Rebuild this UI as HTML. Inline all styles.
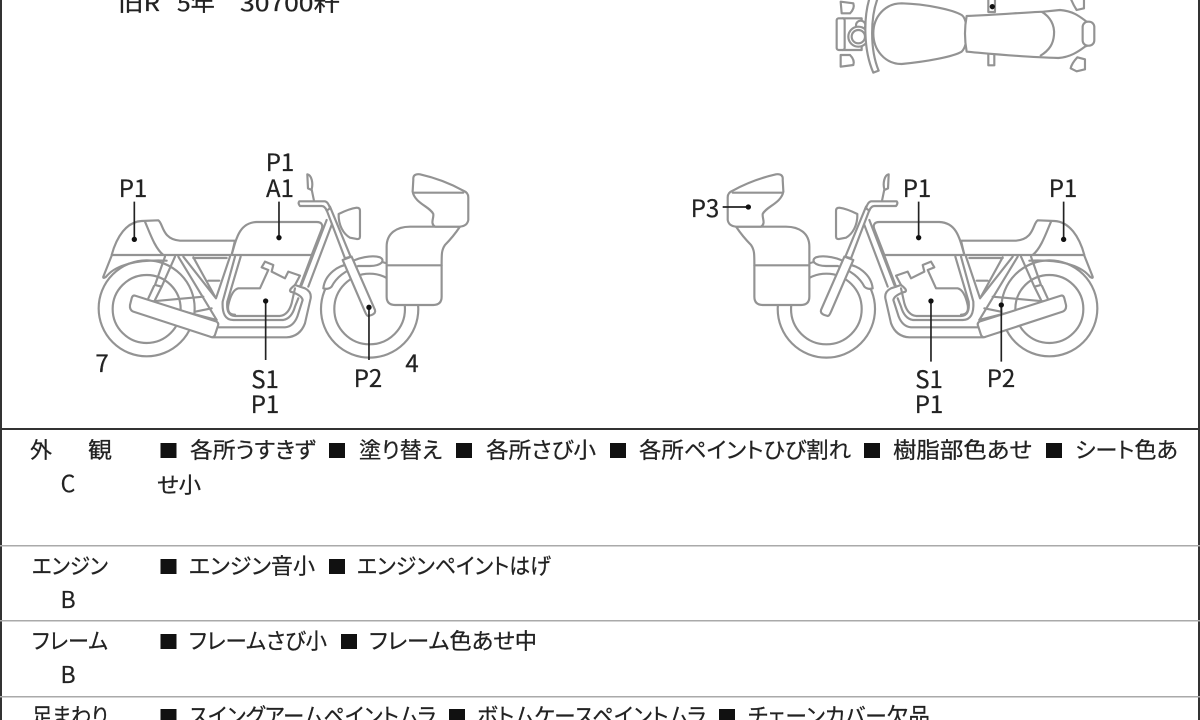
<!DOCTYPE html>
<html lang="ja"><head><meta charset="utf-8"><title>Diagram</title>
<style>
html,body{margin:0;padding:0;background:#fff;width:1200px;height:720px;overflow:hidden}
svg{display:block;filter:blur(.3px)}
text{font-family:"Liberation Sans","Noto Sans CJK JP",sans-serif}
.lb{font-family:"Noto Sans CJK JP",sans-serif;font-size:24px;fill:#222;stroke:#222;stroke-width:.25px;text-anchor:middle}
.t{font-family:"Noto Sans CJK JP",sans-serif;font-size:22px;fill:#222;stroke:#222;stroke-width:.25px;font-feature-settings:"palt";font-weight:400}
.b{font-family:"Noto Sans CJK JP",sans-serif;font-size:23px;fill:#222;stroke:#222;stroke-width:.2px;text-anchor:middle}
.l{stroke:#222;stroke-width:5;fill:none}
</style></head><body>
<svg width="1200" height="720" viewBox="0 0 1200 720" xmlns="http://www.w3.org/2000/svg">
<defs>
<g id="bike" fill="none" stroke="#939393" stroke-width="6.5" stroke-linejoin="round" stroke-linecap="round">
 <circle cx="200" cy="505" r="144"/><circle cx="200" cy="507" r="102"/>
 <circle cx="869" cy="507" r="146"/><circle cx="869" cy="507" r="106"/>
 <!-- tail -->
 <path fill="#fff" d="M95,345C110,290 140,245 185,243L235,241C250,250 245,298 300,302H465L455,345Z"/>
 <path d="M195,245C210,280 225,325 250,345"/>
 <path d="M95,347L70,410C68,416 76,414 82,406C110,375 170,358 260,362"/>
 <!-- frame -->
 <path d="M255,350L225,435L245,440L285,350M222,438L205,475M245,440L225,480"/>
 <path d="M295,350L410,540M310,350L408,475L450,350M340,352L405,470M340,354H440M385,422H418"/>
 <path d="M205,485L370,470M345,515L395,505M215,490L410,540"/>
 <!-- tank -->
 <path fill="#fff" d="M455,345C470,290 480,248 530,246H710C725,246 730,255 725,268L695,345Z"/>
 <!-- downtube / engine -->
 <path d="M465,350L428,485Q425,540 460,540H610Q635,535 645,500L655,475M482,350L442,485Q438,528 465,528H600Q625,525 635,490L645,445"/>
 <path d="M555,365L545,382L565,390L540,445H475Q455,450 445,495Q440,524 465,524M555,365L580,375L575,395L615,415L625,395L660,407L645,435"/>
 <path d="M740,240L665,435M755,255L685,440M695,347L660,440"/>
 <!-- exhaust -->
 <path d="M645,435L675,445Q695,455 692,475L675,550Q660,590 620,592H400M632,455Q665,465 668,480L652,530Q640,560 615,562H410"/>
 <path d="M645,435Q625,450 632,455"/>
 <path fill="#fff" d="M165,467L410,545Q418,550 413,560L405,585Q400,595 390,590L160,515Q148,510 150,495L155,475Q158,465 165,467Z"/>
 <!-- fender -->
 <path fill="#fff" d="M730,445C735,400 780,375 800,375C830,350 880,345 900,352Q912,358 905,368Q895,378 870,378H835C800,390 770,410 755,440Q745,450 730,445Z"/>
 <!-- headlight -->
 <path fill="#fff" d="M776,222C790,215 815,205 830,203Q840,203 840,212V290Q840,298 830,297L810,293C790,282 775,255 776,222Z"/>
 <!-- fork -->
 <path fill="#fff" d="M738,205L750,200L812,350L795,355Z"/>
 <path fill="#fff" d="M788,360L815,350L885,510Q888,520 875,525L865,528Q860,528 855,515Z"/>
 <!-- bars -->
 <path fill="#fff" d="M658,184H735Q745,186 750,205L740,212Q735,198 725,198H660Q653,190 658,184Z"/>
 <path d="M682,103C695,105 700,130 695,148L702,182M682,103L684,145L695,150"/>
 <!-- cases -->
 <path fill="#fff" d="M920,320C920,280 950,260 990,260H1140Q1120,290 1095,315C1085,330 1085,340 1085,375V470Q1085,495 1060,495H945Q920,495 920,470Z"/>
 <path d="M920,376H1085"/>
 <path fill="#fff" d="M1000,120Q998,100 1020,103C1060,112 1110,130 1150,152Q1165,158 1165,172V240Q1162,258 1140,260H1065C1050,250 1062,235 1060,222C1050,200 1005,190 998,155Z"/>
 <path d="M1000,158H1150"/>
</g>
</defs>
<rect width="1200" height="720" fill="#fff"/>

<text class="t" x="118" y="11" textLength="42" lengthAdjust="spacingAndGlyphs">旧R</text>
<text class="t" x="177" y="11" textLength="38" lengthAdjust="spacingAndGlyphs">5年</text>
<text class="t" x="240" y="11" textLength="100" lengthAdjust="spacingAndGlyphs">30700粁</text>

<!-- top view -->
<g transform="translate(820,0) scale(.3333)" fill="#fff" stroke="#939393" stroke-width="6.5" stroke-linejoin="round">
 <rect x="505" y="-12" width="20" height="48"/><rect x="505" y="160" width="18" height="36"/>
 <circle cx="517" cy="20" r="8" fill="#111" stroke="none"/>
 <path d="M62,5L100,10Q105,25 90,40H65Z"/><path d="M62,165H90Q105,180 100,195L62,200Z"/>
 <path d="M752,-5Q760,15 770,30L792,25V-5ZM752,205Q755,190 772,172L795,178V208L770,214Z"/>
 <path d="M68,55H125V150H68Z"/>
 <rect x="50" y="55" width="24" height="95" rx="6"/>
 <circle cx="122" cy="76" r="14"/><circle cx="115" cy="110" r="30"/><circle cx="115" cy="110" r="20"/>
 <path d="M150,-10C130,50 130,150 160,218L176,212C150,150 150,50 175,-10Z"/>
 <path d="M160,100C160,50 195,10 245,10C320,12 400,30 425,45Q440,55 440,100Q440,140 425,155C400,170 320,185 245,192C195,192 160,150 160,100Z"/>
 <path d="M440,48C530,45 600,38 670,35L720,30C760,33 780,50 800,65L818,70Q826,100 818,130L795,140C775,155 750,172 715,174C620,172 520,162 440,155Q430,100 440,48Z"/>
 <path fill="none" d="M665,35C690,50 705,75 702,105C700,130 690,150 660,168"/>
 <rect x="788" y="65" width="35" height="72" rx="16"/>
</g>

<!-- left bike -->
<g transform="translate(80,140) scale(.3333)"><use href="#bike"/>
 <path class="l" d="M163,185V298M597,185V293M557,483V660M867,502V660"/>
 <g fill="#111"><circle cx="163" cy="298" r="8"/><circle cx="597" cy="293" r="8"/><circle cx="557" cy="483" r="8"/><circle cx="867" cy="502" r="8"/></g>
</g>
<!-- right bike -->
<g transform="translate(1196,0) scale(-1,1) translate(80,140) scale(.3333)"><use href="#bike"/></g>
<g transform="translate(680,140) scale(.3333)">
 <path class="l" d="M128,201H205M716,185V293M1151,185V298M753,483V665M964,495V665"/>
 <g fill="#111"><circle cx="205" cy="201" r="8"/><circle cx="716" cy="293" r="8"/><circle cx="1151" cy="298" r="8"/><circle cx="753" cy="483" r="8"/><circle cx="964" cy="495" r="8"/></g>
</g>

<text class="lb" x="133" y="197">P1</text>
<text class="lb" x="280" y="171">P1</text><text class="lb" x="280" y="197">A1</text>
<text class="lb" x="265" y="388">S1</text><text class="lb" x="265" y="413">P1</text>
<text class="lb" x="368" y="387">P2</text>
<text class="lb" x="102" y="372">7</text><text class="lb" x="412" y="372">4</text>
<text class="lb" x="705" y="217">P3</text>
<text class="lb" x="917" y="197">P1</text><text class="lb" x="1063" y="197">P1</text>
<text class="lb" x="929" y="388">S1</text><text class="lb" x="929" y="413">P1</text>
<text class="lb" x="1001" y="387">P2</text>

<!-- borders -->
<rect x="0" y="0" width="2" height="720" fill="#333"/>
<rect x="1198" y="0" width="2" height="720" fill="#333"/>
<rect x="0" y="428" width="1200" height="2" fill="#333"/>
<rect x="0" y="545" width="1200" height="1.5" fill="#aaa"/>
<rect x="0" y="620" width="1200" height="1.5" fill="#aaa"/>
<rect x="0" y="696" width="1200" height="1.5" fill="#aaa"/>

<!-- squares -->
<g fill="#111">
 <rect x="160.5" y="443" width="16" height="15"/><rect x="329" y="443" width="16" height="15"/><rect x="456" y="443" width="16" height="15"/><rect x="610" y="443" width="16" height="15"/><rect x="864" y="443" width="16" height="15"/><rect x="1046" y="443" width="16" height="15"/>
 <rect x="160.5" y="559" width="16" height="15"/><rect x="329" y="559" width="16" height="15"/>
 <rect x="160.5" y="634" width="16" height="15"/><rect x="341" y="634" width="16" height="15"/>
 <rect x="160.5" y="709" width="16" height="15"/><rect x="449" y="709" width="16" height="15"/><rect x="719" y="709" width="16" height="15"/>
</g>

<!-- rows -->
<text class="t" x="30" y="458" textLength="22" lengthAdjust="spacingAndGlyphs">外</text>
<text class="t" x="88" y="458" textLength="24" lengthAdjust="spacingAndGlyphs">観</text>
<text class="b" x="68" y="492">C</text>
<text class="t" x="190" y="458" textLength="126" lengthAdjust="spacingAndGlyphs">各所うすきず</text>
<text class="t" x="359" y="458" textLength="83" lengthAdjust="spacingAndGlyphs">塗り替え</text>
<text class="t" x="486" y="458" textLength="110" lengthAdjust="spacingAndGlyphs">各所さび小</text>
<text class="t" x="639" y="458" textLength="212" lengthAdjust="spacingAndGlyphs">各所ペイントひび割れ</text>
<text class="t" x="893" y="458" textLength="139" lengthAdjust="spacingAndGlyphs">樹脂部色あせ</text>
<text class="t" x="1075" y="458" textLength="103" lengthAdjust="spacingAndGlyphs">シート色あ</text>
<text class="t" x="157" y="493" textLength="44" lengthAdjust="spacingAndGlyphs">せ小</text>

<text class="t" x="32" y="574" textLength="76" lengthAdjust="spacingAndGlyphs">エンジン</text>
<text class="b" x="68" y="608">B</text>
<text class="t" x="189" y="574" textLength="126" lengthAdjust="spacingAndGlyphs">エンジン音小</text>
<text class="t" x="357" y="574" textLength="194" lengthAdjust="spacingAndGlyphs">エンジンペイントはげ</text>

<text class="t" x="32" y="649" textLength="76" lengthAdjust="spacingAndGlyphs">フレーム</text>
<text class="b" x="68" y="683">B</text>
<text class="t" x="189" y="649" textLength="138" lengthAdjust="spacingAndGlyphs">フレームさび小</text>
<text class="t" x="369" y="649" textLength="168" lengthAdjust="spacingAndGlyphs">フレーム色あせ中</text>

<text class="t" x="32" y="724" textLength="76" lengthAdjust="spacingAndGlyphs">足まわり</text>
<text class="t" x="189" y="724" textLength="247" lengthAdjust="spacingAndGlyphs">スイングアームペイントムラ</text>
<text class="t" x="477" y="724" textLength="229" lengthAdjust="spacingAndGlyphs">ボトムケースペイントムラ</text>
<text class="t" x="748" y="724" textLength="182" lengthAdjust="spacingAndGlyphs">チェーンカバー欠品</text>
</svg>
</body></html>
